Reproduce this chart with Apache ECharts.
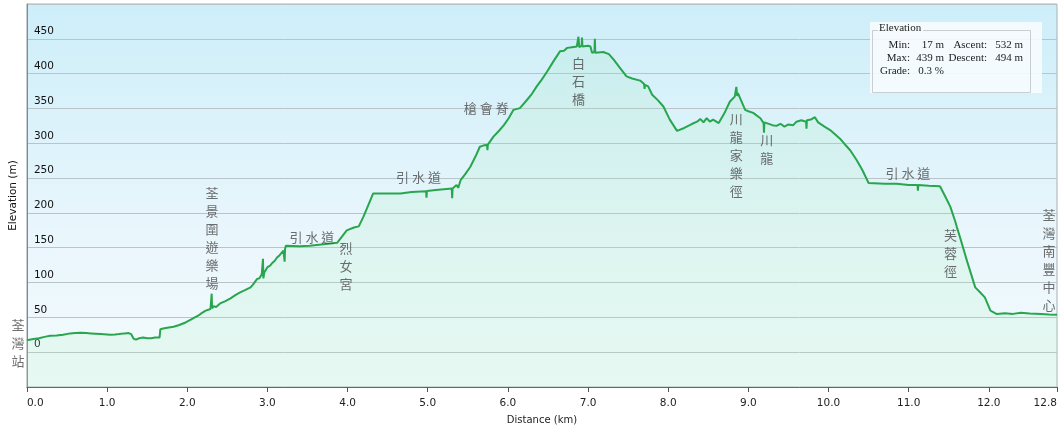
<!DOCTYPE html>
<html>
<head>
<meta charset="utf-8">
<script src="https://cdn.jsdelivr.net/npm/echarts@6/dist/echarts.min.js"></script>
<style>
html,body{margin:0;padding:0;background:#fff;}
#chart{width:1063px;height:433px;}
</style>
</head>
<body>
<div id="chart"></div>
<script>
// Distance (km) and elevation (m) read from the profile
const distances = [
  0.00,0.08,0.15,0.22,0.29,0.37,0.45,0.54,0.60,0.67,
  0.74,0.80,0.92,1.04,1.10,1.15,1.22,1.27,1.30,1.33,
  1.36,1.40,1.45,1.50,1.55,1.60,1.655,1.665,1.70,1.75,
  1.83,1.90,1.98,2.05,2.13,2.18,2.23,2.29,2.30,2.305,
  2.31,2.33,2.36,2.41,2.47,2.54,2.60,2.66,2.72,2.79,
  2.82,2.84,2.87,2.90,2.93,2.94,2.945,2.95,2.96,3.00,
  3.03,3.06,3.09,3.12,3.15,3.17,3.20,3.215,3.22,3.23,
  3.25,3.40,3.53,3.70,3.87,3.93,3.99,4.08,4.14,4.20,
  4.32,4.50,4.66,4.80,4.98,4.985,4.99,5.10,5.30,5.305,
  5.31,5.32,5.36,5.38,5.41,5.47,5.53,5.60,5.65,5.70,
  5.74,5.745,5.75,5.82,5.89,5.95,6.01,6.07,6.15,6.24,
  6.30,6.36,6.42,6.49,6.57,6.65,6.70,6.74,6.80,6.86,
  6.88,6.89,6.92,6.925,6.93,7.00,7.03,7.05,7.08,7.085,
  7.09,7.19,7.26,7.32,7.40,7.48,7.55,7.65,7.70,7.705,
  7.71,7.75,7.80,7.87,7.94,8.02,8.11,8.20,8.30,8.36,
  8.40,8.44,8.48,8.52,8.56,8.63,8.70,8.77,8.83,8.85,
  8.86,8.87,8.96,9.00,9.06,9.15,9.19,9.195,9.20,9.30,
  9.35,9.40,9.45,9.50,9.56,9.60,9.66,9.72,9.725,9.73,
  9.78,9.83,9.87,9.95,10.02,10.14,10.20,10.27,10.35,10.42,
  10.50,10.70,10.85,11.00,11.11,11.115,11.12,11.25,11.39,11.45,
  11.52,11.58,11.60,11.64,11.73,11.83,11.89,11.95,12.02,12.10,
  12.20,12.30,12.40,12.51,12.65,12.75,12.85
];
const elevations = [
  17,19,20,22,23.5,24,25,27,27.5,28,
  27.5,27,26,25,25.5,26,27,27.4,26,19.6,
  18,20,21,20,20,21,21,33,34,35,
  36.5,39,42.7,47,52,56,59.6,62,64,84,
  63,66,65,70,73,77.3,82,86,89,93,
  97,95,105,106,112,110,134,106,114,122,
  124,128,131,136,139,141,146,130,148,153,
  151,152,153,155,157,166,175,179,180.7,195,
  228,228,228,230,231,222,231.6,233,235,221,
  235,236,240,236,247,256,266,282,295,297,
  297.6,290,298,309.6,318,326,336,348,350.5,362.5,
  371,381.7,391,403,418,432,433,437,438,439,
  453,438,440,452,439,440,439,430,431,450,
  430,431,428,420,408,396,393,390,385,378,
  384,381.7,369.7,362,352.8,334,317.8,322,328,331,
  335,330,336,331,334,329,343,360,367,381,
  368,372,348,346,343.7,336,329,315,330,326,
  325,328,324,327,326,331,333,331,321,333,
  334,337.5,330,324,319,307,299,290,276,262,
  243,242,242,240,240,232,240,239,238.4,225,
  208.6,188,180,165,130,93,86,78.7,59.6,54.8,
  56,55,56.5,55.7,55,54,53.8
];
// Place-name annotations (anchor in km / m)
const annoText = ['荃灣站','荃景圍遊樂場','引水道','烈女宮','引水道','槍會脊','白石橋','川龍家樂徑','川龍','引水道','芙蓉徑','荃灣南豐中心'];
const annoX    = [-0.11, 2.31, 3.556, 3.98, 4.885, 5.73, 6.88, 8.85, 9.23, 10.99, 11.52, 12.75];
const annoY    = [13.4, 164, 166, 123, 251.8, 350.5, 389, 282.9, 292, 256.7, 143, 133];
const annoVertical = [true, true, false, true, false, false, true, true, true, false, true, true];
// Summary box values
const statLabels = [['Min:', '17 m', 'Ascent:', '532 m'], ['Max:', '439 m', 'Descent:', '494 m'], ['Grade:', '0.3 %', '', '']];

const X_MAX = 12.85;
const lineData = distances.map((d, i) => [d, elevations[i]]);
const annoData = annoText.map((t, i) => ({
  value: [annoX[i], annoY[i]],
  name: annoVertical[i] ? t.split('').join('\n') : t.split('').join(' ')
}));

const chart = echarts.init(document.getElementById('chart'));

const boxFont = '11px "Liberation Serif", "DejaVu Serif", serif';
const colRight = [910, 944, 987, 1023];
const rowY = [45, 58, 71];
const statGraphics = [];
statLabels.forEach((row, r) => {
  row.forEach((txt, c) => {
    if (!txt) return;
    statGraphics.push({
      type: 'text', x: colRight[c], y: rowY[r], z: 20,
      style: { text: txt, font: boxFont, fill: '#222', align: 'right', verticalAlign: 'middle' }
    });
  });
});

chart.setOption({
  animation: false,
  grid: {
    left: 26, right: 6, top: 4, bottom: 46,
    show: true,
    borderColor: '#a9b0b4',
    borderWidth: 1,
    backgroundColor: new echarts.graphic.LinearGradient(0, 0, 0, 1, [
      { offset: 0, color: '#cdeef9' },
      { offset: 0.6, color: '#e9f6fc' },
      { offset: 1, color: '#f4fbfd' }
    ])
  },
  xAxis: {
    type: 'value', min: 0, max: X_MAX, interval: 1,
    name: 'Distance (km)', nameLocation: 'middle', nameGap: 28,
    nameTextStyle: { fontFamily: 'DejaVu Sans', fontSize: 10, color: '#222' },
    axisLine: { show: true, onZero: false, lineStyle: { color: '#666', width: 1 } },
    axisTick: { show: true, length: 5, lineStyle: { color: '#555' } },
    axisLabel: {
      fontFamily: 'DejaVu Sans', fontSize: 10.5, color: '#222', margin: 11,
      alignMinLabel: 'left', alignMaxLabel: 'right',
      formatter: v => (Math.floor(v * 10 + 1e-6) / 10).toFixed(1)
    },
    splitLine: { show: false }
  },
  yAxis: {
    type: 'value', min: -50, max: 500, interval: 50,
    name: 'Elevation (m)', nameLocation: 'middle', nameGap: 9,
    nameTextStyle: { fontFamily: 'DejaVu Sans', fontSize: 10.5, color: '#111', verticalAlign: 'middle' },
    axisLine: { show: true, onZero: false, lineStyle: { color: '#888' } },
    axisTick: { show: false },
    axisLabel: {
      inside: true, margin: 7, verticalAlign: 'bottom', padding: [0, 0, 2, 0],
      fontFamily: 'DejaVu Sans', fontSize: 10.5, color: '#111',
      formatter: v => (v < 0 || v >= 500) ? '' : String(v)
    },
    splitLine: { show: true, lineStyle: { color: '#b9c4c8', width: 1 } }
  },
  series: [
    {
      type: 'line', data: lineData, showSymbol: false, symbol: 'none',
      lineStyle: { color: '#27a64e', width: 2 },
      areaStyle: {
        origin: 'start',
        color: new echarts.graphic.LinearGradient(0, 0, 0, 1, [
          { offset: 0, color: 'rgba(150,230,175,0.22)' },
          { offset: 1, color: 'rgba(170,240,190,0.25)' }
        ])
      },
      z: 3
    },
    {
      type: 'scatter', data: annoData, symbolSize: 0, clip: false, silent: true, z: 5,
      label: {
        show: true, position: 'inside', formatter: p => p.name,
        fontFamily: '"Noto Sans CJK TC", "Noto Sans CJK SC", sans-serif',
        fontSize: 13, color: '#4a4a4a', lineHeight: 18, align: 'center', verticalAlign: 'middle'
      }
    }
  ],
  graphic: [
    { type: 'rect', shape: { x: 870, y: 22, width: 172, height: 71 }, z: 18,
      style: { fill: 'rgba(248,252,254,0.88)', stroke: 'none' } },
    { type: 'rect', shape: { x: 872.5, y: 30.5, width: 158, height: 62 }, z: 19,
      style: { fill: 'none', stroke: '#c9ced1', lineWidth: 1 } },
    { type: 'text', x: 878, y: 28, z: 21,
      style: { text: 'Elevation', font: boxFont, fill: '#222', align: 'left', verticalAlign: 'middle',
               backgroundColor: '#f5fbfd', padding: [0, 2, 0, 1] } }
  ].concat(statGraphics)
});
</script>
</body>
</html>
